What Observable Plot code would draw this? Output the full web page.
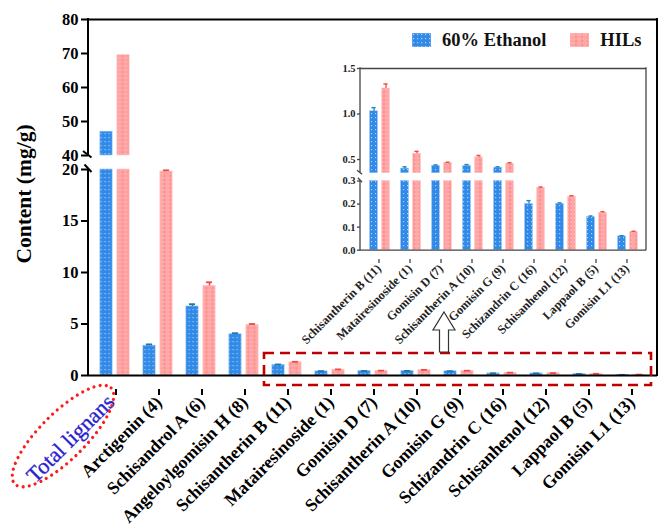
<!DOCTYPE html>
<html><head><meta charset="utf-8">
<script src="https://cdn.jsdelivr.net/npm/d3@7"></script>
<script src="https://cdn.jsdelivr.net/npm/@observablehq/plot@0.6"></script>
<style>
body{margin:0;background:#fff;}
#wrap{position:relative;width:658px;height:525px;overflow:hidden;font-family:"Liberation Serif","Times New Roman",serif;}
#wrap svg.layer{position:absolute;left:0;top:0;}
#legend{position:absolute;left:412px;top:31px;height:18px;font-weight:bold;font-size:18.5px;display:flex;align-items:center;font-family:"Liberation Serif",serif;color:#111;}
#legend svg{display:block;}
</style></head><body>
<svg width="0" height="0" style="position:absolute">
<defs>
<pattern id="patBlue" width="4" height="4" patternUnits="userSpaceOnUse">
<rect width="4" height="4" fill="#3189e8"/>
<rect x="1" y="1" width="1.2" height="1.2" fill="#a9cdf7"/>
</pattern>
<pattern id="patPink" width="6" height="4" patternUnits="userSpaceOnUse">
<rect width="6" height="4" fill="#ff9595"/>
<ellipse cx="3" cy="2" rx="2" ry="1.1" fill="none" stroke="#ffcaca" stroke-width="0.7"/>
</pattern>
</defs></svg>
<div id="wrap"></div>
<script>
// ---- data ----
const categories = ["Total lignans","Arctigenin (4)","Schisandrol A (6)","Angeloylgomisin H (8)","Schisantherin B (11)","Matairesinoside (1)","Gomisin D (7)","Schisantherin A (10)","Gomisin G (9)","Schizandrin C (16)","Schisanhenol (12)","Lappaol B (5)","Gomisin L1 (13)"];
const seriesNames = ["60% Ethanol","HILs"];
const ethanol    = [47.0, 2.9, 6.7, 4.0, 1.03, 0.40, 0.43, 0.43, 0.41, 0.20, 0.20, 0.143, 0.060];
const ethanolErr = [0,    0.12,0.22,0.10,0.04, 0.02, 0.01, 0.015,0.01, 0.015,0.005,0.005, 0.003];
const hils       = [69.5, 19.8, 8.7, 4.9, 1.28, 0.565,0.46, 0.525,0.455,0.270,0.232,0.162, 0.079];
const hilsErr    = [0,    0.12,0.35,0.10,0.05, 0.025,0.01, 0.02, 0.01, 0.004,0.004,0.005, 0.003];
const insetStart = 4; // inset shows categories from Schisantherin B onward
const mainTicks = [0,5,10,15,20,40,50,60,70,80];
const mainBreak = [20,40];
const insetTicks = [0,0.1,0.2,0.3,0.5,1.0,1.5];
const insetBreak = [0.3,0.35];

// ---- helpers ----
function segments(cats, vals, brk) {
  const rows = [];
  cats.forEach((c,i) => {
    const v = vals[i];
    rows.push({cat:c, y1:0, y2:Math.min(v, brk[0])});
    if (v > brk[1]) rows.push({cat:c, y1:brk[1], y2:v});
  });
  return rows;
}
function errs(cats, vals, e) {
  return cats.map((c,i) => ({cat:c, y1:vals[i], y2:vals[i]+e[i]})).filter(d => d.y2 > d.y1);
}

const W = 658, H = 525;
const wrap = document.getElementById("wrap");

// ---- main chart ----
const mInset = 15.4, mOff = 8.5;
const main = Plot.plot({
  width: W, height: H,
  marginLeft: 88, marginRight: 1, marginTop: 19, marginBottom: 150,
  style: {fontFamily: "Liberation Serif, Times New Roman, serif", fontWeight: "bold", background: "none", color: "#000"},
  x: {domain: categories, padding: 0, label: null},
  y: {type: "linear", domain: [0, mainBreak[0], mainBreak[1], 80], range: [375, 169, 155, 19], label: null},
  marks: [
    Plot.barY(segments(categories, ethanol, mainBreak), {x:"cat", y1:"y1", y2:"y2", fill:"url(#patBlue)", stroke:"#8fc0f5", strokeWidth:0.6, insetLeft:mInset, insetRight:mInset, dx:-mOff}),
    Plot.barY(segments(categories, hils, mainBreak), {x:"cat", y1:"y1", y2:"y2", fill:"url(#patPink)", stroke:"#ffc4c4", strokeWidth:0.6, insetLeft:mInset, insetRight:mInset, dx:mOff}),
    Plot.ruleX(errs(categories, ethanol, ethanolErr), {x:"cat", y1:"y1", y2:"y2", stroke:"#1b78a8", strokeWidth:1.6, dx:-mOff}),
    Plot.tickY(errs(categories, ethanol, ethanolErr), {x:"cat", y:"y2", stroke:"#1b78a8", strokeWidth:1.8, insetLeft:18.4, insetRight:18.4, dx:-mOff}),
    Plot.ruleX(errs(categories, hils, hilsErr), {x:"cat", y1:"y1", y2:"y2", stroke:"#f04a4a", strokeWidth:1.6, dx:mOff}),
    Plot.tickY(errs(categories, hils, hilsErr), {x:"cat", y:"y2", stroke:"#f04a4a", strokeWidth:1.8, insetLeft:18.4, insetRight:18.4, dx:mOff}),
    Plot.ruleY([0, 80], {stroke:"#000", strokeWidth:2}),
    Plot.axisY({ticks: mainTicks, tickSize:7, tickPadding:3, fontSize:16.5, strokeWidth:2, label:null}),
    Plot.axisX({tickRotate:-45, tickSize:6, tickPadding:4, fontSize:17.8, strokeWidth:2, label:null, dx:1, dy:14})
  ]
});
main.classList.add("layer");
wrap.appendChild(main);

// ---- inset chart ----
const insetCats = categories.slice(insetStart);
const insetEth = ethanol.slice(insetStart), insetEthErr = ethanolErr.slice(insetStart);
const insetHil = hils.slice(insetStart), insetHilErr = hilsErr.slice(insetStart);
const iInset = 11.6, iOff = 6;
const inset = Plot.plot({
  width: W, height: H,
  marginLeft: 360, marginRight: 12, marginTop: 68, marginBottom: 275,
  style: {fontFamily: "Liberation Serif, Times New Roman, serif", fontWeight: "bold", background: "none", color: "#222"},
  x: {domain: insetCats, padding: 0, label: null},
  y: {type: "linear", domain: [0, insetBreak[0], insetBreak[1], 1.5], range: [249.7, 180.5, 172.7, 68], label: null},
  marks: [
    Plot.barY(segments(insetCats, insetEth, insetBreak), {x:"cat", y1:"y1", y2:"y2", fill:"url(#patBlue)", stroke:"#8fc0f5", strokeWidth:0.5, insetLeft:iInset, insetRight:iInset, dx:-iOff}),
    Plot.barY(segments(insetCats, insetHil, insetBreak), {x:"cat", y1:"y1", y2:"y2", fill:"url(#patPink)", stroke:"#ffc4c4", strokeWidth:0.5, insetLeft:iInset, insetRight:iInset, dx:iOff}),
    Plot.ruleX(errs(insetCats, insetEth, insetEthErr), {x:"cat", y1:"y1", y2:"y2", stroke:"#1b8ab8", strokeWidth:1.3, dx:-iOff}),
    Plot.tickY(errs(insetCats, insetEth, insetEthErr), {x:"cat", y:"y2", stroke:"#1b8ab8", strokeWidth:1.4, insetLeft:13.4, insetRight:13.4, dx:-iOff}),
    Plot.ruleX(errs(insetCats, insetHil, insetHilErr), {x:"cat", y1:"y1", y2:"y2", stroke:"#f04a4a", strokeWidth:1.3, dx:iOff}),
    Plot.tickY(errs(insetCats, insetHil, insetHilErr), {x:"cat", y:"y2", stroke:"#f04a4a", strokeWidth:1.4, insetLeft:13.4, insetRight:13.4, dx:iOff}),
    Plot.ruleY([0, 1.5], {stroke:"#444", strokeWidth:1.3}),
    Plot.axisY({ticks: insetTicks, tickFormat: d3.format(".1f"), tickSize:3, tickPadding:2, fontSize:10.5, stroke:"#444", strokeWidth:1.3, label:null}),
    Plot.axisX({tickRotate:-45, tickSize:4, tickPadding:3, fontSize:12.3, stroke:"#444", strokeWidth:1.3, label:null, dx:-1, dy:9})
  ]
});
inset.classList.add("layer");
wrap.appendChild(inset);

// ---- decorations via the charts' own scales ----
function brokenAxis(chart, brk, top, stroke, sw, slash) {
  const svg = d3.select(chart);
  const y = chart.scale("y"), x = chart.scale("x");
  const x0 = x.range[0], x1 = x.range[1];
  const yb0 = y.apply(0), yLo = y.apply(brk[0]), yHi = y.apply(brk[1]), yTop = y.apply(top);
  const g = svg.append("g").attr("stroke", stroke).attr("stroke-width", sw).attr("fill", "none");
  g.append("line").attr("x1", x0).attr("x2", x0).attr("y1", yb0 + sw/2).attr("y2", yLo);
  g.append("line").attr("x1", x0).attr("x2", x0).attr("y1", yHi).attr("y2", yTop - sw/2);
  g.append("line").attr("x1", x1).attr("x2", x1).attr("y1", yb0 + sw/2).attr("y2", yTop - sw/2);
  g.append("line").attr("x1", x0 - slash).attr("y1", yHi - slash*0.8).attr("x2", x0 + slash*0.7).attr("y2", yHi + slash*0.5);
  g.append("line").attr("x1", x0 - slash*0.7).attr("y1", yLo - slash*0.9).attr("x2", x0 + slash*0.7).attr("y2", yLo + slash*0.6);
  return svg;
}
const msvg = brokenAxis(main, mainBreak, 80, "#000", 2, 5);
brokenAxis(inset, insetBreak, 1.5, "#444", 1.3, 3);

// total lignans label styling and dotted ellipse
msvg.selectAll("text").filter(function(){ return this.textContent === categories[0]; })
  .attr("fill", "#2a22d0").attr("font-size", 22).attr("font-weight", "normal")
  .attr("stroke", "#2a22d0").attr("stroke-width", 0.35)
  .attr("dy", "-0.2em").attr("dx", -3);
msvg.append("ellipse").attr("cx", 63).attr("cy", 436).attr("rx", 68).attr("ry", 23)
  .attr("transform", "rotate(-45 63 436)")
  .attr("fill", "none").attr("stroke", "#ff1a1a").attr("stroke-width", 3.2)
  .attr("stroke-linecap", "round").attr("stroke-dasharray", "0 6.2");
// dashed highlight box around the small compounds
msvg.append("rect").attr("x", 264).attr("y", 353).attr("width", 387).attr("height", 32)
  .attr("fill", "none").attr("stroke", "#c00000").attr("stroke-width", 2.6).attr("stroke-dasharray", "10 6");
// hollow arrow
msvg.append("polygon")
  .attr("points", "444,312 455,330 448.5,330 448.5,352 439.5,352 439.5,330 433,330")
  .attr("fill", "#fff").attr("stroke", "#333").attr("stroke-width", 1.2);

// ---- legend ----
const leg = document.createElement("div");
leg.id = "legend";
const sw = (fill) => `<svg width="19" height="14"><rect width="19" height="14" fill="${fill}" stroke="${fill === 'url(#patBlue)' ? '#8fc0f5' : '#ffc4c4'}" stroke-width="0.8"/></svg>`;
leg.innerHTML = `${sw("url(#patBlue)")}<span style="margin-left:11px">${seriesNames[0]}</span>` +
  `<span style="margin-left:24px"></span>${sw("url(#patPink)")}<span style="margin-left:11px">${seriesNames[1]}</span>`;
wrap.appendChild(leg);
// y title
const yt = document.createElement("div");
yt.textContent = "Content (mg/g)";
yt.style.cssText = "position:absolute;left:24px;top:194px;transform:translate(-50%,-50%) rotate(-90deg);font-weight:bold;font-size:21.5px;white-space:nowrap;font-family:'Liberation Serif',serif;color:#000;";
wrap.appendChild(yt);
</script>
</body></html>
